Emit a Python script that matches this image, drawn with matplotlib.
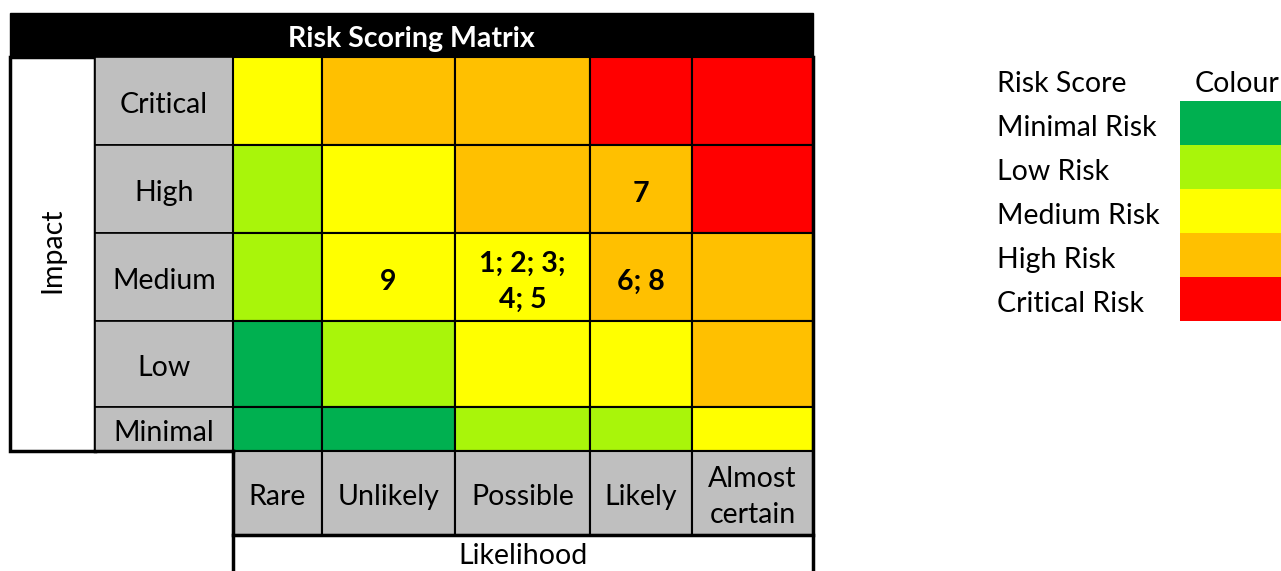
import matplotlib
matplotlib.use("Agg")
import matplotlib.pyplot as plt
from matplotlib.patches import Rectangle

plt.rcParams['font.family'] = ['Lato', 'DejaVu Sans']

# ---------------- data ----------------
title = "Risk Scoring Matrix"
impact_labels = ["Critical", "High", "Medium", "Low", "Minimal"]          # top to bottom
likelihood_labels = ["Rare", "Unlikely", "Possible", "Likely", "Almost\ncertain"]
# risk level index per cell: 0 Minimal, 1 Low, 2 Medium, 3 High, 4 Critical
levels = [
    [2, 3, 3, 4, 4],
    [1, 2, 3, 3, 4],
    [1, 2, 2, 3, 3],
    [0, 1, 2, 2, 3],
    [0, 0, 1, 1, 2],
]
cell_text = [
    ["", "", "", "", ""],
    ["", "", "", "7", ""],
    ["", "9", "1; 2; 3;\n4; 5", "6; 8", ""],
    ["", "", "", "", ""],
    ["", "", "", "", ""],
]
legend_labels = ["Minimal Risk", "Low Risk", "Medium Risk", "High Risk", "Critical Risk"]
level_colors = ["#00B050", "#A9F50A", "#FFFF00", "#FFC000", "#FF0000"]

# ---------------- layout (pixel units) ----------------
W, H = 1281, 571
col_edges = [233, 322, 455, 590, 692, 813]
row_edges = [57, 145, 233, 321, 407, 451]
label_x0, label_x1 = 95, 233
impact_x0 = 10
title_y0 = 13
header_y1 = 535
gray = "#BFBFBF"
fs = 20.5

fig = plt.figure(figsize=(W / 100, H / 100), dpi=100)
ax = fig.add_axes([0, 0, 1, 1])
ax.set_xlim(0, W)
ax.set_ylim(H, 0)
ax.axis("off")

# title bar
ax.add_patch(Rectangle((impact_x0, title_y0), col_edges[-1] - impact_x0, row_edges[0] - title_y0,
                       facecolor="black", edgecolor="black", lw=1))
ax.text((impact_x0 + col_edges[-1]) / 2, (title_y0 + row_edges[0]) / 2 + 4, title,
        color="white", fontsize=fs, fontweight="bold", ha="center", va="center")

# impact box
ax.add_patch(Rectangle((impact_x0, row_edges[0]), label_x0 - impact_x0, row_edges[-1] - row_edges[0],
                       facecolor="white", edgecolor="black", lw=2.5))
ax.text((impact_x0 + label_x0) / 2, (row_edges[0] + row_edges[-1]) / 2 - 4, "Impact",
        rotation=90, fontsize=fs, ha="center", va="center")

# row labels
for i, lab in enumerate(impact_labels):
    y0, y1 = row_edges[i], row_edges[i + 1]
    ax.add_patch(Rectangle((label_x0, y0), label_x1 - label_x0, y1 - y0,
                           facecolor=gray, edgecolor="black", lw=1.2))
    ax.text((label_x0 + label_x1) / 2, (y0 + y1) / 2 + 4, lab, fontsize=fs, ha="center", va="center")

# cells
for i in range(len(impact_labels)):
    for j in range(len(likelihood_labels)):
        x0, x1 = col_edges[j], col_edges[j + 1]
        y0, y1 = row_edges[i], row_edges[i + 1]
        ax.add_patch(Rectangle((x0, y0), x1 - x0, y1 - y0,
                               facecolor=level_colors[levels[i][j]], edgecolor="black", lw=1.5))
        if cell_text[i][j]:
            ax.text((x0 + x1) / 2, (y0 + y1) / 2 + 5, cell_text[i][j], fontsize=fs,
                    fontweight="bold", ha="center", va="center", linespacing=1.45)

# column labels
for j, lab in enumerate(likelihood_labels):
    x0, x1 = col_edges[j], col_edges[j + 1]
    ax.add_patch(Rectangle((x0, row_edges[-1]), x1 - x0, header_y1 - row_edges[-1],
                           facecolor=gray, edgecolor="black", lw=1.5))
    ax.text((x0 + x1) / 2, (row_edges[-1] + header_y1) / 2 + 4, lab, fontsize=fs,
            ha="center", va="center", linespacing=1.5)

# outer borders
ax.plot([label_x0, col_edges[0]], [row_edges[-1], row_edges[-1]], color="black", lw=2.5)
ax.plot([col_edges[0], col_edges[0]], [row_edges[-1], H + 5], color="black", lw=2.5)
ax.plot([col_edges[0], col_edges[-1]], [header_y1, header_y1], color="black", lw=2.5)
ax.plot([col_edges[-1], col_edges[-1]], [row_edges[0], H + 5], color="black", lw=2.5)
ax.text((col_edges[0] + col_edges[-1]) / 2, 556, "Likelihood", fontsize=fs, ha="center", va="center")

# legend
ax.text(997, 84, "Risk Score", fontsize=fs, ha="left", va="center")
ax.text(1195, 84, "Colour", fontsize=fs, ha="left", va="center")
leg_y = [101, 145, 189, 233, 277, 321]
for k, lab in enumerate(legend_labels):
    ax.add_patch(Rectangle((1180, leg_y[k]), W - 1180 + 5, leg_y[k + 1] - leg_y[k],
                           facecolor=level_colors[k], edgecolor="none"))
    ax.text(997, (leg_y[k] + leg_y[k + 1]) / 2 + 5, lab, fontsize=fs, ha="left", va="center")

fig.savefig("out.png", dpi=100)
